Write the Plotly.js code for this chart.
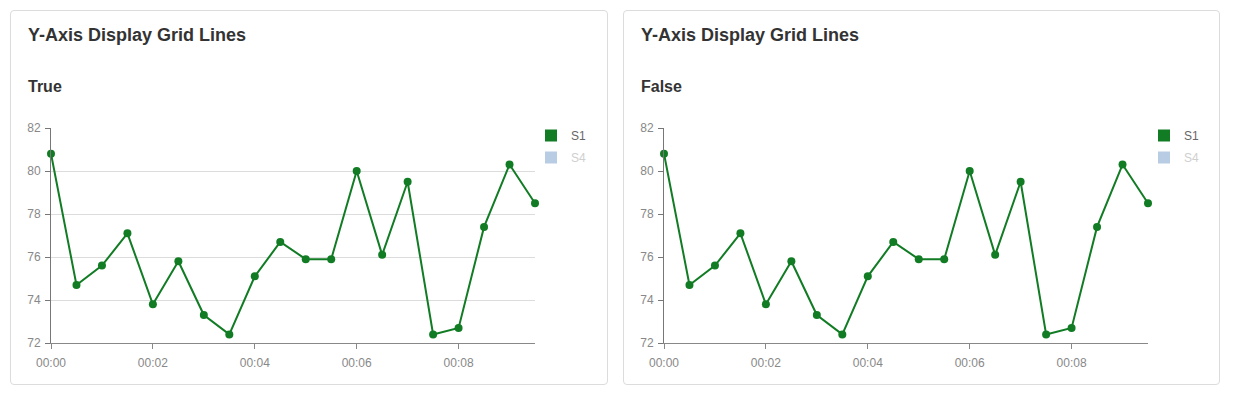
<!DOCTYPE html>
<html>
<head>
<meta charset="utf-8">
<script src="https://cdn.plot.ly/plotly-3.0.1.min.js"></script>
<style>
  html, body { margin: 0; padding: 0; background: #fff; width: 1233px; height: 394px; overflow: hidden; }
  .card { position: absolute; top: 10px; height: 375px; border: 1px solid #dcdcdc; border-radius: 4px; background: #fff; box-sizing: border-box; }
  .card h3 { position: absolute; left: 17px; top: 14px; margin: 0; font: bold 18px "Liberation Sans", Arial, sans-serif; color: #333; }
  .plot { position: absolute; left: 0; top: 50px; }
</style>
</head>
<body>
<div class="card" id="card1" style="left:10px; width:598px;">
  <h3>Y-Axis Display Grid Lines</h3>
  <div class="plot" id="chart1"></div>
</div>
<div class="card" id="card2" style="left:623px; width:597px;">
  <h3>Y-Axis Display Grid Lines</h3>
  <div class="plot" id="chart2"></div>
</div>
<script>
// ---- data ----
const times = ["00:00:00","00:00:30","00:01:00","00:01:30","00:02:00","00:02:30","00:03:00","00:03:30","00:04:00","00:04:30",
               "00:05:00","00:05:30","00:06:00","00:06:30","00:07:00","00:07:30","00:08:00","00:08:30","00:09:00","00:09:30"];
const s1Values = [80.8, 74.7, 75.6, 77.1, 73.8, 75.8, 73.3, 72.4, 75.1, 76.7,
                  75.9, 75.9, 80.0, 76.1, 79.5, 72.4, 72.7, 77.4, 80.3, 78.5];
const seriesNames = ["S1", "S4"];
const yTicks = [72, 74, 76, 78, 80, 82];
const subtitles = ["True", "False"];

// ---- style ----
const GREEN = "#117c24";
const S4COLOR = "#b8cce4";
const FONT = '"Liberation Sans", Arial, sans-serif';
const xDates = times.map(t => "2000-01-01 " + t);

function build(divId, showGrid, subtitle, width) {
  const traces = [
    {
      x: xDates, y: s1Values, type: "scatter", mode: "lines+markers",
      line: {color: GREEN, width: 2}, marker: {color: GREEN, size: 8},
      cliponaxis: false, showlegend: false, hoverinfo: "x+y"
    },
    {
      x: [null], y: [null], type: "scatter", mode: "markers", name: seriesNames[0],
      marker: {color: GREEN, size: 12, symbol: "square"}, showlegend: true, legend: "legend"
    },
    {
      x: [null], y: [null], type: "scatter", mode: "markers",
      name: '<span style="color:#cfcfcf">' + seriesNames[1] + '</span>',
      marker: {color: S4COLOR, size: 12, symbol: "square"}, showlegend: true, legend: "legend2"
    }
  ];
  const plotW = 484;
  const layout = {
    width: width, height: 324,
    margin: {l: 40, r: width - 40 - plotW, t: 67, b: 42},
    paper_bgcolor: "rgba(0,0,0,0)", plot_bgcolor: "rgba(0,0,0,0)",
    font: {family: FONT, size: 12, color: "#888"},
    title: {text: subtitle, x: 17 / width, xanchor: "left", y: 1 - 25 / 324, yanchor: "middle",
            font: {family: FONT, size: 16, color: "#333", weight: "bold"}},
    xaxis: {
      type: "date", range: [xDates[0], xDates[xDates.length - 1]],
      tickformat: "%H:%M", dtick: 120000, tick0: xDates[0],
      showgrid: false, zeroline: false,
      showline: true, linecolor: "#888", linewidth: 1,
      ticks: "outside", ticklen: 5, tickcolor: "#888", ticklabelstandoff: 4,
      tickfont: {family: FONT, size: 12, color: "#888"}
    },
    yaxis: {
      range: [yTicks[0], yTicks[yTicks.length - 1]], tickvals: yTicks,
      showgrid: showGrid, gridcolor: "#dcdcdc", gridwidth: 1, zeroline: false,
      showline: true, linecolor: "#777", linewidth: 1,
      ticks: "outside", ticklen: 5, tickcolor: "#777", ticklabelstandoff: 2,
      tickfont: {family: FONT, size: 12, color: "#888"}
    },
    showlegend: true,
    legend: {x: 1 - 4 / plotW, xanchor: "left", y: 1.0 + 7 / 215, yanchor: "top",
             font: {family: FONT, size: 12, color: "#666"}, bgcolor: "rgba(0,0,0,0)"},
    legend2: {x: 1 - 4 / plotW, xanchor: "left", y: 1.0 - 15 / 215, yanchor: "top",
              font: {family: FONT, size: 12, color: "#cfcfcf"}, bgcolor: "rgba(0,0,0,0)"},
    hovermode: "closest"
  };
  Plotly.newPlot(divId, traces, layout, {displayModeBar: false});
}

build("chart1", true, subtitles[0], 596);
build("chart2", false, subtitles[1], 595);
</script>
</body>
</html>
